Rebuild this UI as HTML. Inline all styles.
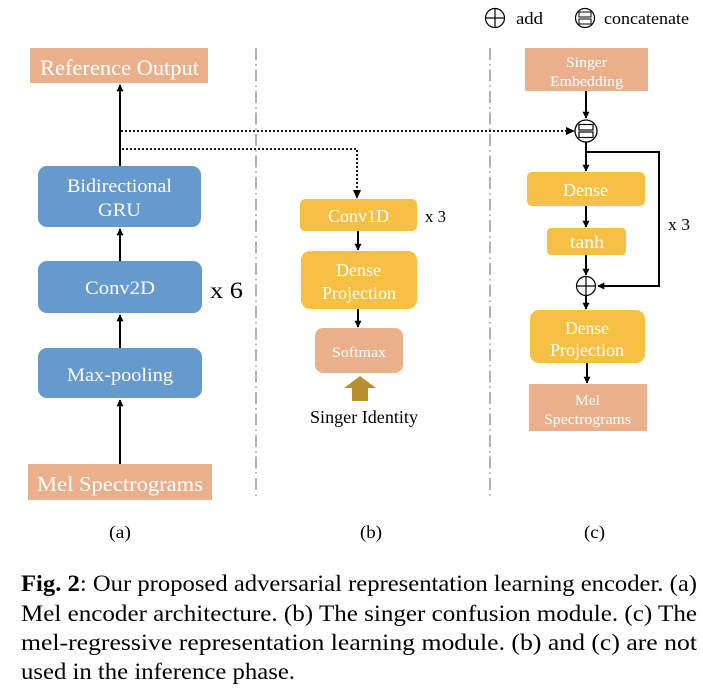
<!DOCTYPE html>
<html><head><meta charset="utf-8"><style>
html,body{margin:0;padding:0;background:#fff;width:703px;height:694px;overflow:hidden}
svg{display:block}
text{font-family:"Liberation Serif","Times New Roman",serif}
</style></head><body>
<svg width="703" height="694" viewBox="0 0 703 694" xmlns="http://www.w3.org/2000/svg" font-family="Liberation Serif, serif">
<defs>
<marker id="ah" viewBox="0 0 10 10" refX="9" refY="5" markerWidth="7" markerHeight="7" orient="auto-start-reverse" markerUnits="userSpaceOnUse"><path d="M0,0 L10,5 L0,10 z" fill="#000"/></marker>
</defs>
<line x1="256" y1="48" x2="256" y2="497" stroke="#888" stroke-width="1.3" stroke-dasharray="12,4,1.5,4"/>
<line x1="490" y1="48" x2="490" y2="497" stroke="#888" stroke-width="1.3" stroke-dasharray="12,4,1.5,4"/>

<!-- (a) -->
<rect x="30" y="48" width="178" height="35" fill="#e9b08b"/>
<text x="40" y="75" font-size="22" fill="#fff" textLength="159" lengthAdjust="spacingAndGlyphs">Reference Output</text>
<line x1="120" y1="166" x2="120" y2="85" stroke="#000" stroke-width="2" marker-end="url(#ah)"/>
<rect x="38" y="166" width="163" height="61" rx="9" fill="#6699cc"/>
<text x="67" y="192" font-size="19" fill="#fff" textLength="105" lengthAdjust="spacingAndGlyphs">Bidirectional</text>
<text x="98" y="216" font-size="19" fill="#fff" textLength="43" lengthAdjust="spacingAndGlyphs">GRU</text>
<line x1="120" y1="262" x2="120" y2="229" stroke="#000" stroke-width="2" marker-end="url(#ah)"/>
<rect x="38" y="261" width="164" height="52" rx="9" fill="#6699cc"/>
<text x="85" y="294" font-size="19" fill="#fff" textLength="70" lengthAdjust="spacingAndGlyphs">Conv2D</text>
<text x="210" y="298" font-size="23" fill="#000" textLength="33" lengthAdjust="spacingAndGlyphs">x 6</text>
<line x1="120" y1="348" x2="120" y2="315" stroke="#000" stroke-width="2" marker-end="url(#ah)"/>
<rect x="38" y="348" width="164" height="50" rx="9" fill="#6699cc"/>
<text x="67" y="381" font-size="19" fill="#fff" textLength="106" lengthAdjust="spacingAndGlyphs">Max-pooling</text>
<line x1="120" y1="464" x2="120" y2="400" stroke="#000" stroke-width="2" marker-end="url(#ah)"/>
<rect x="28" y="464" width="184" height="36" fill="#e9b08b"/>
<text x="37" y="491" font-size="21" fill="#fff" textLength="166" lengthAdjust="spacingAndGlyphs">Mel Spectrograms</text>

<line x1="121" y1="131" x2="573" y2="131" stroke="#000" stroke-width="1.8" stroke-dasharray="2,2"/>
<path d="M566,127 L575,131 L566,135 z" fill="#000"/>
<polyline points="122,149 357,149 357,192" fill="none" stroke="#000" stroke-width="1.8" stroke-dasharray="2,2"/>
<path d="M353,190 L357,199 L361,190 z" fill="#000"/>

<!-- (b) -->
<rect x="300" y="199" width="117" height="32" rx="5" fill="#f5c043"/>
<text x="328" y="222" font-size="18" fill="#fff" textLength="61" lengthAdjust="spacingAndGlyphs">Conv1D</text>
<text x="425" y="222" font-size="17" fill="#000" textLength="21" lengthAdjust="spacingAndGlyphs">x 3</text>
<line x1="358" y1="231" x2="358" y2="250" stroke="#000" stroke-width="2" marker-end="url(#ah)"/>
<rect x="301" y="251" width="116" height="58" rx="9" fill="#f5c043"/>
<text x="336" y="276" font-size="18" fill="#fff" textLength="45" lengthAdjust="spacingAndGlyphs">Dense</text>
<text x="322" y="299" font-size="18" fill="#fff" textLength="74" lengthAdjust="spacingAndGlyphs">Projection</text>
<line x1="358" y1="309" x2="358" y2="327" stroke="#000" stroke-width="2" marker-end="url(#ah)"/>
<rect x="315" y="328" width="88" height="45" rx="8" fill="#e9b08b"/>
<text x="332" y="357" font-size="15" fill="#fff" textLength="54" lengthAdjust="spacingAndGlyphs">Softmax</text>
<path d="M360,376 L376,388 L368,388 L368,401 L352,401 L352,388 L344,388 z" fill="#b8902f"/>
<text x="310" y="423" font-size="18" fill="#000" textLength="108" lengthAdjust="spacingAndGlyphs">Singer Identity</text>

<!-- legend -->
<circle cx="495" cy="18" r="9.5" fill="none" stroke="#000" stroke-width="1.2"/>
<line x1="485.5" y1="18" x2="504.5" y2="18" stroke="#000" stroke-width="1.2"/>
<line x1="495" y1="8.5" x2="495" y2="27.5" stroke="#000" stroke-width="1.2"/>
<text x="516" y="24" font-size="17" fill="#000" textLength="27" lengthAdjust="spacingAndGlyphs">add</text>
<circle cx="585" cy="18" r="9.5" fill="none" stroke="#000" stroke-width="1.2"/>
<rect x="579" y="12" width="12" height="5" fill="none" stroke="#000" stroke-width="1"/>
<rect x="579" y="19" width="12" height="5" fill="none" stroke="#000" stroke-width="1"/>
<text x="604" y="24" font-size="17" fill="#000" textLength="85" lengthAdjust="spacingAndGlyphs">concatenate</text>

<!-- (c) -->
<rect x="525" y="48" width="123" height="43" fill="#e9b08b"/>
<text x="566" y="67" font-size="15" fill="#fff" textLength="41" lengthAdjust="spacingAndGlyphs">Singer</text>
<text x="550" y="86" font-size="15" fill="#fff" textLength="73" lengthAdjust="spacingAndGlyphs">Embedding</text>
<line x1="586" y1="91" x2="586" y2="118" stroke="#000" stroke-width="2" marker-end="url(#ah)"/>
<circle cx="586" cy="131" r="11" fill="#fff" stroke="#000" stroke-width="1.3"/>
<rect x="579" y="124.5" width="14" height="5.5" fill="none" stroke="#000" stroke-width="1.2"/>
<rect x="579" y="132" width="14" height="5.5" fill="none" stroke="#000" stroke-width="1.2"/>
<line x1="586" y1="142" x2="586" y2="171" stroke="#000" stroke-width="2" marker-end="url(#ah)"/>
<polyline points="586,152 659,152 659,286 598,286" fill="none" stroke="#000" stroke-width="2" marker-end="url(#ah)"/>
<text x="668" y="230" font-size="17" fill="#000" textLength="22" lengthAdjust="spacingAndGlyphs">x 3</text>
<rect x="527" y="172" width="118" height="34" rx="5" fill="#f5c043"/>
<text x="563" y="196" font-size="18" fill="#fff" textLength="45" lengthAdjust="spacingAndGlyphs">Dense</text>
<line x1="586" y1="206" x2="586" y2="227" stroke="#000" stroke-width="2" marker-end="url(#ah)"/>
<rect x="547" y="228" width="79" height="27" rx="4" fill="#f5c043"/>
<text x="570" y="248" font-size="18" fill="#fff" textLength="34" lengthAdjust="spacingAndGlyphs">tanh</text>
<line x1="586" y1="255" x2="586" y2="275" stroke="#000" stroke-width="2" marker-end="url(#ah)"/>
<circle cx="586" cy="286" r="9.5" fill="#fff" stroke="#000" stroke-width="1.2"/>
<line x1="576.5" y1="286" x2="595.5" y2="286" stroke="#000" stroke-width="1.2"/>
<line x1="586" y1="276.5" x2="586" y2="295.5" stroke="#000" stroke-width="1.2"/>
<line x1="586" y1="295.5" x2="586" y2="309" stroke="#000" stroke-width="2" marker-end="url(#ah)"/>
<rect x="530" y="310" width="115" height="53" rx="9" fill="#f5c043"/>
<text x="565" y="334" font-size="18" fill="#fff" textLength="44" lengthAdjust="spacingAndGlyphs">Dense</text>
<text x="550" y="356" font-size="18" fill="#fff" textLength="74" lengthAdjust="spacingAndGlyphs">Projection</text>
<line x1="587" y1="363" x2="587" y2="383" stroke="#000" stroke-width="2" marker-end="url(#ah)"/>
<rect x="529" y="384" width="118" height="47" fill="#e9b08b"/>
<text x="575" y="405" font-size="15" fill="#fff" textLength="25" lengthAdjust="spacingAndGlyphs">Mel</text>
<text x="544" y="424" font-size="15" fill="#fff" textLength="87" lengthAdjust="spacingAndGlyphs">Spectrograms</text>

<text x="109" y="538" font-size="18" fill="#000" textLength="22" lengthAdjust="spacingAndGlyphs">(a)</text>
<text x="360" y="538" font-size="18" fill="#000" textLength="22" lengthAdjust="spacingAndGlyphs">(b)</text>
<text x="584" y="538" font-size="18" fill="#000" textLength="21" lengthAdjust="spacingAndGlyphs">(c)</text>

<text x="21" y="591" font-size="23" fill="#000" textLength="676" lengthAdjust="spacingAndGlyphs"><tspan font-weight="bold">Fig. 2</tspan>: Our proposed adversarial representation learning encoder. (a)</text>
<text x="21" y="621" font-size="23" fill="#000" textLength="676" lengthAdjust="spacingAndGlyphs">Mel encoder architecture. (b) The singer confusion module. (c) The</text>
<text x="21" y="650" font-size="23" fill="#000" textLength="676" lengthAdjust="spacingAndGlyphs">mel-regressive representation learning module.  (b) and (c) are not</text>
<text x="21" y="679" font-size="23" fill="#000" textLength="274" lengthAdjust="spacingAndGlyphs">used in the inference phase.</text>
</svg>
</body></html>
